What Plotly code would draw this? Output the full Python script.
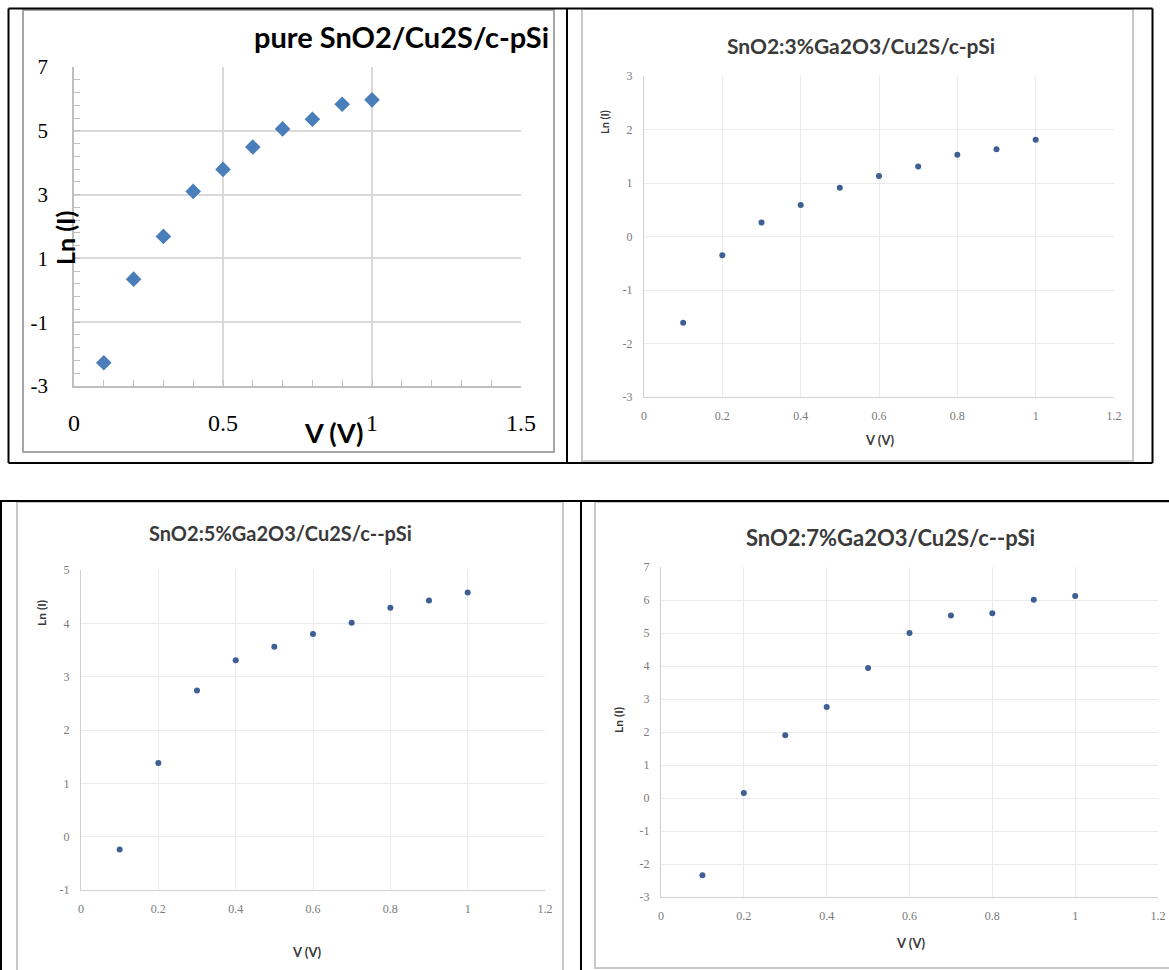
import plotly.graph_objects as go

W, H = 1169, 970

# ---------------- data ----------------
V = [0.1, 0.2, 0.3, 0.4, 0.5, 0.6, 0.7, 0.8, 0.9, 1.0]
ln_pure = [-2.27, 0.35, 1.69, 3.10, 3.79, 4.49, 5.06, 5.36, 5.83, 5.97]
ln_3 = [-1.61, -0.35, 0.26, 0.59, 0.91, 1.13, 1.31, 1.53, 1.63, 1.81]
ln_5 = [-0.24, 1.38, 2.74, 3.31, 3.56, 3.80, 4.01, 4.29, 4.43, 4.58]
ln_7 = [-2.34, 0.15, 1.90, 2.76, 3.94, 5.00, 5.53, 5.60, 6.01, 6.12]

titles = ["pure SnO2/Cu2S/c-pSi", "SnO2:3%Ga2O3/Cu2S/c-pSi",
          "SnO2:5%Ga2O3/Cu2S/c--pSi", "SnO2:7%Ga2O3/Cu2S/c--pSi"]
x_title = "V (V)"
y_title = "Ln (I)"

x1_ticks = [0, 0.5, 1, 1.5]
x_small_ticks = [0, 0.2, 0.4, 0.6, 0.8, 1, 1.2]
y1_ticks = [-3, -1, 1, 3, 5, 7]
y2_ticks = [-3, -2, -1, 0, 1, 2, 3]
y3_ticks = [-1, 0, 1, 2, 3, 4, 5]
y4_ticks = [-3, -2, -1, 0, 1, 2, 3, 4, 5, 6, 7]


def px(x):
    return x / W


def py(y):
    return 1 - y / H


def lab(v):
    return ("%g" % v).replace("\u2212", "-")


fig = go.Figure()

fig.add_trace(go.Scatter(x=V, y=ln_pure, mode="markers", xaxis="x", yaxis="y",
                         marker=dict(symbol="diamond", size=12, color="#4a7ebb"),
                         showlegend=False))
fig.add_trace(go.Scatter(x=V, y=ln_3, mode="markers", xaxis="x2", yaxis="y2",
                         marker=dict(symbol="circle", size=6, color="#3d5f94"),
                         showlegend=False))
fig.add_trace(go.Scatter(x=V, y=ln_5, mode="markers", xaxis="x3", yaxis="y3",
                         marker=dict(symbol="circle", size=6, color="#3d5f94"),
                         showlegend=False))
fig.add_trace(go.Scatter(x=V, y=ln_7, mode="markers", xaxis="x4", yaxis="y4",
                         marker=dict(symbol="circle", size=6, color="#3d5f94"),
                         showlegend=False))

serif = "Liberation Serif"
sans = "Lato"

fig.update_layout(
    xaxis=dict(domain=[px(74), px(521)], range=[0, 1.5], anchor="y",
               tickmode="array", tickvals=x1_ticks,
               ticktext=[lab(v) for v in x1_ticks],
               showgrid=True, gridcolor="#d9d9d9", gridwidth=1.5,
               showline=True, linecolor="#bfbfbf", linewidth=1.5,
               ticks="inside", ticklen=6, tickcolor="#bfbfbf",
               minor=dict(dtick=0.1, tick0=0, ticks="inside", ticklen=6,
                          tickcolor="#bfbfbf", showgrid=False),
               tickfont=dict(family=serif, size=24, color="black"),
               ticklabelstandoff=14, zeroline=False, fixedrange=True,
               automargin=False),
    yaxis=dict(domain=[py(386), py(67)], range=[-3, 7], anchor="x",
               tickmode="array", tickvals=y1_ticks,
               ticktext=[lab(v) for v in y1_ticks],
               showgrid=True, gridcolor="#d9d9d9", gridwidth=1.5,
               showline=True, linecolor="#bfbfbf", linewidth=1.5,
               ticks="inside", ticklen=6, tickcolor="#bfbfbf",
               minor=dict(dtick=0.4, tick0=-3, ticks="inside", ticklen=6,
                          tickcolor="#bfbfbf", showgrid=False),
               tickfont=dict(family=serif, size=21, color="black"),
               ticklabelstandoff=20, zeroline=False, fixedrange=True,
               automargin=False),
)


def small_axes(xdom, ydom, yr, yt, n):
    xa = dict(domain=[px(xdom[0]), px(xdom[1])], range=[0, 1.2], anchor="y%d" % n,
              tickmode="array", tickvals=x_small_ticks,
              ticktext=[lab(v) for v in x_small_ticks],
              showgrid=True, gridcolor="#ebebeb", gridwidth=1,
              showline=True, linecolor="#d0d0d0", linewidth=1,
              ticks="", tickfont=dict(family=serif, size=12, color="#7a7a7a"),
              ticklabelstandoff=8, zeroline=False, fixedrange=True,
              automargin=False)
    ya = dict(domain=[py(ydom[1]), py(ydom[0])], range=yr, anchor="x%d" % n,
              tickmode="array", tickvals=yt, ticktext=[lab(v) for v in yt],
              showgrid=True, gridcolor="#ebebeb", gridwidth=1,
              showline=True, linecolor="#d0d0d0", linewidth=1,
              ticks="", tickfont=dict(family=serif, size=12, color="#7a7a7a"),
              ticklabelstandoff=8, zeroline=False, fixedrange=True,
              automargin=False)
    return xa, ya


xa2, ya2 = small_axes((644, 1114), (76, 397), [-3, 3], y2_ticks, 2)
xa3, ya3 = small_axes((81, 545), (570, 890), [-1, 5], y3_ticks, 3)
xa4, ya4 = small_axes((661, 1158), (567, 897), [-3, 7], y4_ticks, 4)
fig.update_layout(xaxis2=xa2, yaxis2=ya2, xaxis3=xa3, yaxis3=ya3,
                  xaxis4=xa4, yaxis4=ya4)

shapes = []


def rect(x0, y0, x1, y1, color, w):
    shapes.append(dict(type="rect", xref="paper", yref="paper",
                       x0=px(x0), x1=px(x1), y0=py(y1), y1=py(y0),
                       line=dict(color=color, width=w), fillcolor="rgba(0,0,0,0)",
                       layer="below"))


def line(x0, y0, x1, y1, color, w):
    shapes.append(dict(type="line", xref="paper", yref="paper",
                       x0=px(x0), x1=px(x1), y0=py(y0), y1=py(y1),
                       line=dict(color=color, width=w), layer="above"))


# chart frames (grey)
rect(23, 10, 554, 452, "#a6a6a6", 2)
rect(582, 9, 1133, 461, "#c8c8c8", 2)
rect(17, 502, 563, 1000, "#c8c8c8", 2)
rect(595, 502, 1200, 968, "#c8c8c8", 2)

# table borders (black)
line(8.5, 8.5, 1152.5, 8.5, "black", 2)
line(8.5, 8.5, 8.5, 463, "black", 2)
line(1152.5, 8.5, 1152.5, 463, "black", 2)
line(8.5, 463, 1152.5, 463, "black", 2)
line(567, 8.5, 567, 463, "black", 2)
line(0, 501, 1169, 501, "black", 2)
line(1, 501, 1, 970, "black", 2)
line(581, 501, 581, 970, "black", 2)

annotations = []


def text(x, y, s, size, color="black", angle=0, xanchor="center", bold=True):
    annotations.append(dict(xref="paper", yref="paper", x=px(x), y=py(y),
                            text=("<b>%s</b>" % s) if bold else s,
                            showarrow=False, textangle=angle,
                            xanchor=xanchor, yanchor="middle",
                            font=dict(family=sans, size=size, color=color)))


text(551, 37, titles[0], 29, "black", xanchor="right")
text(65, 238, y_title, 25, "black", angle=-90)
text(333, 432, x_title, 27, "black")

text(861, 45, titles[1], 21, "#3a3a3a")
text(604, 122, y_title, 11, "#3a3a3a", angle=-90)
text(880, 440, x_title, 13, "#3a3a3a")

text(280, 533, titles[2], 20, "#3a3a3a")
text(41, 613, y_title, 12, "#3a3a3a", angle=-90)
text(307, 952, x_title, 13, "#3a3a3a")

text(890, 537, titles[3], 22, "#3a3a3a")
text(618, 720, y_title, 12, "#3a3a3a", angle=-90)
text(911, 943, x_title, 13, "#3a3a3a")

fig.update_layout(width=W, height=H,
                  margin=dict(l=0, r=0, t=0, b=0, pad=0, autoexpand=False),
                  paper_bgcolor="white", plot_bgcolor="white",
                  shapes=shapes, annotations=annotations, showlegend=False)

fig.write_html("out.html", config={"displayModeBar": False},
               post_script="document.body.style.margin='0';document.body.style.overflow='hidden';")
